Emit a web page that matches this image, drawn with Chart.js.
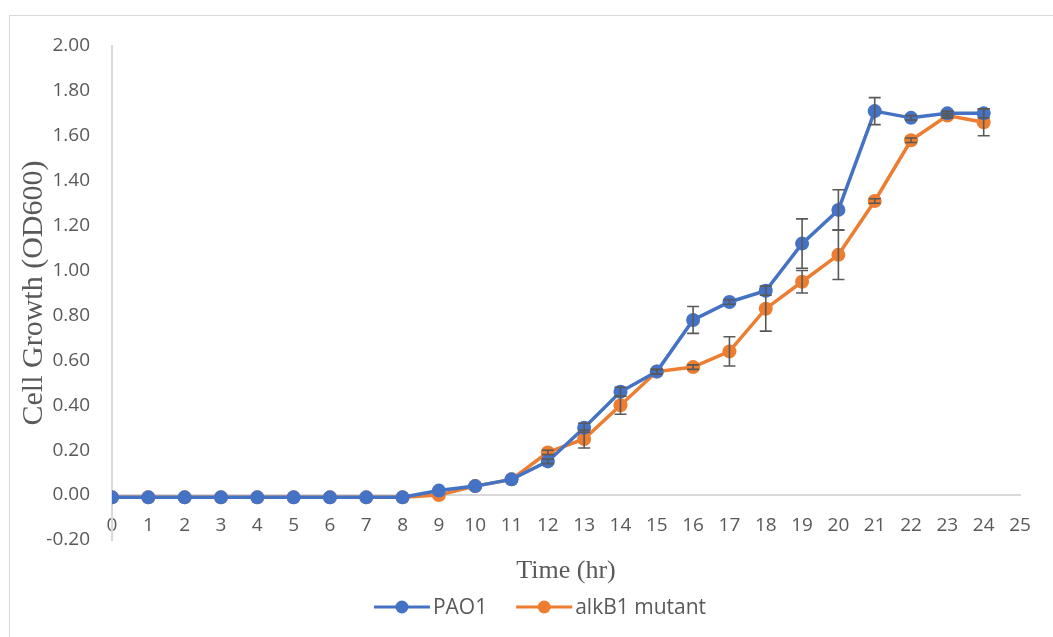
<!DOCTYPE html>
<html>
<head>
<meta charset="utf-8">
<script src="https://cdn.jsdelivr.net/npm/chart.js@4.4.1/dist/chart.umd.min.js"></script>
<style>
  html, body { margin: 0; padding: 0; background: #fff; }
  #wrap { position: relative; width: 1053px; height: 637px; overflow: hidden; }
  #frame { position: absolute; left: 9px; top: 15px; width: 1100px; height: 700px; border: 1px solid #d9d9d9; box-sizing: border-box; pointer-events: none; }
  canvas { position: absolute; left: 0; top: 0; }
</style>
</head>
<body>
<div id="wrap">
  <div id="frame"></div>
  <canvas id="c" width="1053" height="637"></canvas>
</div>
<script>
const hours = [0,1,2,3,4,5,6,7,8,9,10,11,12,13,14,15,16,17,18,19,20,21,22,23,24];
const pao1 = [-0.01,-0.01,-0.01,-0.01,-0.01,-0.01,-0.01,-0.01,-0.01,0.02,0.04,0.07,0.15,0.30,0.46,0.55,0.78,0.86,0.91,1.12,1.27,1.71,1.68,1.70,1.70];
const alkB1 = [-0.01,-0.01,-0.01,-0.01,-0.01,-0.01,-0.01,-0.01,-0.01,0.00,0.04,0.07,0.19,0.25,0.40,0.55,0.57,0.64,0.83,0.95,1.07,1.31,1.58,1.69,1.66];
const errPao1 = [0,0,0,0,0,0,0,0,0,0,0,0,0.01,0.02,0.02,0.01,0.06,0.01,0.02,0.11,0.09,0.06,0.01,0.01,0.02];
const errAlkB1 = [0,0,0,0,0,0,0,0,0,0,0,0,0.01,0.04,0.04,0.01,0.01,0.065,0.10,0.05,0.11,0.01,0.01,0.01,0.06];
const yTicks = [-0.2,0,0.2,0.4,0.6,0.8,1.0,1.2,1.4,1.6,1.8,2.0];
const seriesNames = ['PAO1', 'alkB1 mutant'];
const seriesColors = ['#4472C4', '#ED7D31'];

const toXY = (vals) => hours.map((h, i) => ({ x: h, y: vals[i] }));

const errorBarPlugin = {
  id: 'errorBars',
  afterDatasetsDraw(chart) {
    const ctx = chart.ctx;
    const xs = chart.scales.x, ys = chart.scales.y;
    const errs = [errPao1, errAlkB1];
    const vals = [pao1, alkB1];
    ctx.save();
    ctx.strokeStyle = '#595959';
    ctx.lineWidth = 1.6;
    for (let s = 0; s < 2; s++) {
      for (let i = 0; i < hours.length; i++) {
        const e = errs[s][i];
        if (!e) continue;
        const px = xs.getPixelForValue(hours[i]);
        const top = ys.getPixelForValue(vals[s][i] + e);
        const bot = ys.getPixelForValue(vals[s][i] - e);
        ctx.beginPath();
        ctx.moveTo(px, top); ctx.lineTo(px, bot);
        ctx.moveTo(px - 6, top); ctx.lineTo(px + 6, top);
        ctx.moveTo(px - 6, bot); ctx.lineTo(px + 6, bot);
        ctx.stroke();
      }
    }
    ctx.restore();
  }
};

const legendPlugin = {
  id: 'customLegend',
  afterDraw(chart) {
    const ctx = chart.ctx;
    ctx.save();
    ctx.font = '21px "Open Sans", Lato, sans-serif';
    const lineLen = 56, gapText = 3, gapItem = 29;
    const widths = seriesNames.map(n => ctx.measureText(n).width);
    let total = 0;
    widths.forEach((w, i) => { total += lineLen + gapText + w; if (i < widths.length - 1) total += gapItem; });
    let x = 540 - total / 2;
    const y = 607;
    seriesNames.forEach((n, i) => {
      ctx.strokeStyle = seriesColors[i];
      ctx.lineWidth = 3;
      ctx.beginPath(); ctx.moveTo(x, y); ctx.lineTo(x + lineLen, y); ctx.stroke();
      ctx.fillStyle = seriesColors[i];
      ctx.beginPath(); ctx.arc(x + lineLen / 2, y, 6.5, 0, Math.PI * 2); ctx.fill();
      ctx.fillStyle = '#595959';
      ctx.textBaseline = 'middle';
      ctx.textAlign = 'left';
      ctx.fillText(n, x + lineLen + gapText, y + 1);
      x += lineLen + gapText + widths[i] + gapItem;
    });
    ctx.restore();
  }
};

new Chart(document.getElementById('c'), {
  type: 'line',
  data: {
    datasets: [
      { label: seriesNames[0], data: toXY(pao1), borderColor: seriesColors[0], backgroundColor: seriesColors[0],
        borderWidth: 3.5, pointRadius: 7, pointBorderWidth: 0, pointBackgroundColor: seriesColors[0], tension: 0 },
      { label: seriesNames[1], data: toXY(alkB1), borderColor: seriesColors[1], backgroundColor: seriesColors[1],
        borderWidth: 3.5, pointRadius: 7, pointBorderWidth: 0, pointBackgroundColor: seriesColors[1], tension: 0 }
    ]
  },
  options: {
    responsive: false,
    animation: false,
    devicePixelRatio: 1,
    layout: { padding: { left: 12, top: 46, right: 33, bottom: 97 } },
    plugins: { legend: { display: false }, tooltip: { enabled: false } },
    scales: {
      x: {
        type: 'linear',
        position: { y: 0 },
        min: 0, max: 25,
        grid: { display: false, drawTicks: false },
        border: { display: true, color: '#d9d9d9', width: 2 },
        ticks: { stepSize: 1, padding: 19, color: '#595959', font: { family: '"Open Sans", Lato, sans-serif', size: 19 }, maxRotation: 0, autoSkip: false },
        title: { display: true, text: 'Time (hr)', color: '#595959', font: { family: '"Liberation Serif", "Times New Roman", serif', size: 26 }, padding: { top: 0 } }
      },
      y: {
        min: -0.2, max: 2.0,
        afterFit(scale) { scale.width = 100; },
        afterBuildTicks(scale) { scale.ticks = yTicks.map(v => ({ value: v })); },
        grid: { display: false, drawTicks: false },
        border: { display: true, color: '#d9d9d9', width: 2 },
        ticks: { padding: 22, color: '#595959', font: { family: '"Open Sans", Lato, sans-serif', size: 19 }, callback: v => v.toFixed(2) },
        title: { display: true, text: 'Cell Growth (OD600)', color: '#595959', font: { family: '"Liberation Serif", "Times New Roman", serif', size: 30 }, padding: { bottom: 0 } }
      }
    }
  },
  plugins: [errorBarPlugin, legendPlugin]
});
</script>
</body>
</html>
